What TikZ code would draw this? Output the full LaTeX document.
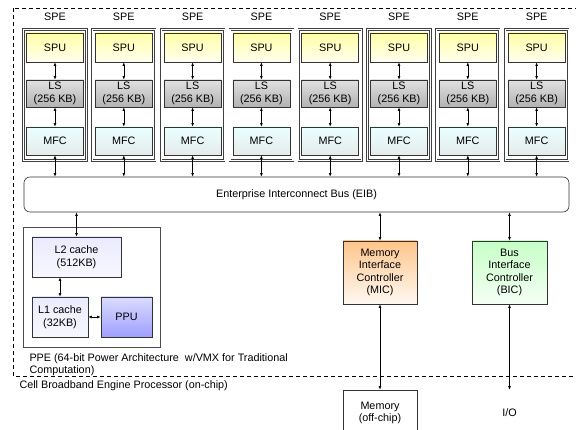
\documentclass[tikz,border=0pt]{standalone}
\usepackage{fontspec}
\setmainfont{Liberation Sans}
\usetikzlibrary{arrows.meta,positioning}

\begin{document}
\begin{tikzpicture}[x=1pt,y=-1pt,
		font=\fontsize{10.8}{12.5}\selectfont,
		box/.style={draw=black!80,line width=0.6pt,inner sep=0pt,align=center},
		spebox/.style={draw=black!75,double,double distance=1.2pt,line width=0.5pt,minimum width=63pt,minimum height=131pt},
		spubox/.style={box,minimum width=57pt,minimum height=29pt,top color=yellow!35!white,bottom color=yellow!6!white},
		lsbox/.style={box,minimum width=57pt,minimum height=27pt,top color=black!12,bottom color=black!30},
		mfcbox/.style={box,minimum width=57pt,minimum height=28pt,top color=cyan!8!white,bottom color=cyan!20!black!10},
		biarrow/.style={{Latex[length=3.6pt,width=2.8pt]}-{Latex[length=3.6pt,width=2.8pt]},line width=0.6pt}]
	\useasboundingbox (0,0) rectangle (576,430);
	% chip boundary
	\draw[dash pattern=on 4pt off 3pt,line width=0.6pt] (13,8) rectangle (600,376);
	\node[anchor=west] (cellname) at (16,386) {Cell Broadband Engine Processor (on-chip)};
	% bus
	\node[box,rounded corners=6pt,minimum width=545pt,minimum height=35pt] (eib) at (296.5,194.5) {Enterprise Interconnect Bus (EIB)};
	% synergistic elements
	\foreach \i in {1,...,8}{
		\pgfmathsetmacro\cx{55+(\i-1)*68.8}
		\node[spebox] (spe-\i) at (\cx,95) {};
		\node (spename-\i) at (\cx,17) {SPE};
		\node[spubox] (spu-\i) at (\cx,47.5) {SPU};
		\node[lsbox] (ls-\i) at (\cx,93.5) {LS\\(256 KB)};
		\node[mfcbox] (mfc-\i) at (\cx,141) {MFC};
		\draw[biarrow] (spu-\i.south) -- (ls-\i.north);
		\draw[biarrow] (ls-\i.south) -- (mfc-\i.north);
		\draw[biarrow] (mfc-\i.south) -- (mfc-\i.south |- eib.north);
	}
	% power processor element
	\node[box,draw=black!70,minimum width=137pt,minimum height=120pt] (ppe) at (91.5,287) {};
	\node[anchor=north west,align=left] (ppename) at (26,350) {PPE (64-bit Power Architecture\ \ w/VMX for Traditional\\Computation)};
	\node[box,minimum width=89pt,minimum height=40pt,top color=blue!8!white,bottom color=blue!3!white] (l2) at (76.5,257) {L2 cache\\(512KB)};
	\node[box,minimum width=56pt,minimum height=40pt,top color=blue!8!white,bottom color=blue!3!white] (l1) at (60,317) {L1 cache\\(32KB)};
	\node[box,minimum width=51pt,minimum height=40pt,top color=blue!14!white,bottom color=blue!38!white] (ppu) at (126.5,317) {PPU};
	\draw[biarrow] (l2.north) -- (l2.north |- eib.south);
	\draw[biarrow] (l1.north) -- (l1.north |- l2.south);
	\draw[biarrow] (l1.east) -- (ppu.west);
	% controllers
	\node[box,minimum width=74pt,minimum height=63pt,top color=orange!45!white,bottom color=orange!5!white] (mic) at (380,272.5) {Memory\\Interface\\Controller\\(MIC)};
	\node[box,minimum width=75pt,minimum height=63pt,top color=green!22!white,bottom color=green!4!white] (bic) at (509.5,272.5) {Bus\\Interface\\Controller\\(BIC)};
	\draw[biarrow] (mic.north) -- (mic.north |- eib.south);
	\draw[biarrow] (bic.north) -- (bic.north |- eib.south);
	% off-chip
	\node[box,minimum width=74pt,minimum height=46pt] (mem) at (380,413) {Memory\\(off-chip)};
	\node[inner sep=0pt,minimum height=46pt] (io) at (509.5,413) {I/O};
	\draw[biarrow] (mic.south) -- (mem.north);
	\draw[biarrow] (bic.south) -- (io.north);
\end{tikzpicture}
\end{document}
